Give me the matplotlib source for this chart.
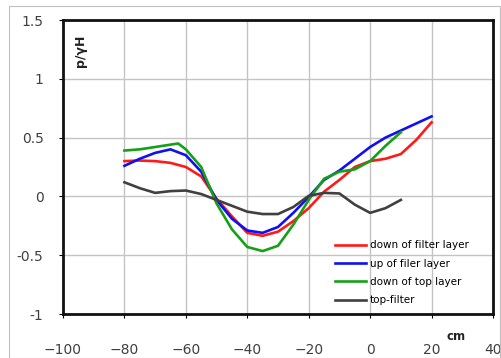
import matplotlib.pyplot as plt
from matplotlib.patches import Rectangle

# distance along the section (cm)
x_long = [-80, -75, -70, -65, -60, -55, -50, -45, -40, -35, -30,
          -25, -20, -15, -10, -5, 0, 5, 10, 15, 20]
x_green = [-80, -75, -70, -65, -62.5, -60, -55, -50, -45, -40, -35, -30,
           -25, -20, -15, -10, -5, 0, 5, 10]
x_black = x_long[:-2]

# p / gamma H readings
down_filter = [0.30, 0.305, 0.30, 0.285, 0.25, 0.17, -0.02, -0.17, -0.31, -0.335, -0.30,
               -0.21, -0.10, 0.04, 0.14, 0.25, 0.30, 0.32, 0.36, 0.48, 0.63]
up_filer = [0.26, 0.32, 0.37, 0.40, 0.35, 0.21, -0.03, -0.19, -0.29, -0.31, -0.26,
            -0.14, -0.005, 0.14, 0.22, 0.32, 0.42, 0.50, 0.56, 0.62, 0.68]
down_top = [0.39, 0.40, 0.42, 0.44, 0.45, 0.40, 0.25, -0.06, -0.28, -0.43, -0.465, -0.42,
            -0.24, -0.03, 0.15, 0.21, 0.23, 0.30, 0.43, 0.545]
top_filter = [0.12, 0.07, 0.03, 0.045, 0.05, 0.02, -0.03, -0.08, -0.13, -0.15, -0.15,
              -0.09, 0.005, 0.03, 0.025, -0.07, -0.14, -0.10, -0.03]

labels = ['down of filter layer', 'up of filer layer', 'down of top layer', 'top-filter']
colors = ['#ff1a1a', '#1010f0', '#16a016', '#404040']

xticks = [-100, -80, -60, -40, -20, 0, 20, 40]
yticks = [-1, -0.5, 0, 0.5, 1, 1.5]
ytick_labels = ['-1', '-0.5', '0', '0.5', '1', '1.5']

W, H = 502, 358
fig = plt.figure(figsize=(W / 100, H / 100), dpi=100)
ax = fig.add_axes([63 / W, 1 - 314 / H, (493 - 63) / W, (314 - 20) / H])

series = [(x_long, down_filter), (x_long, up_filer), (x_green, down_top), (x_black, top_filter)]
for (xs, ys), lab, c in zip(series, labels, colors):
    ax.plot(xs, ys, color=c, lw=1.9, label=lab, solid_joinstyle='round')

ax.set_xlim(-100, 40)
ax.set_ylim(-1, 1.5)
ax.set_xticks(xticks)
ax.set_xticklabels([str(t).replace('-', '\u2212') for t in xticks])
ax.set_yticks(yticks)
ax.set_yticklabels(ytick_labels)
ax.grid(True, color='#c4c4c4', lw=1.0)
ax.set_axisbelow(True)
for s in ax.spines.values():
    s.set_linewidth(2.0)
    s.set_color('#111111')
ax.tick_params(axis='y', length=3, pad=11, labelsize=10, labelcolor='#404040')
ax.tick_params(axis='x', length=3, pad=18, labelsize=10, labelcolor='#404040')

ax.text(81, H - 51, 'p/\u03b3H', transform=None, rotation=90, fontsize=9,
        fontweight='bold', ha='center', va='center', color='#222222')
ax.text(456, H - 337, 'cm', transform=None, fontsize=8.5, fontweight='bold',
        ha='center', va='center', color='#222222')

ax.legend(loc='upper left', bbox_to_anchor=(330 / W, 1 - 235 / H),
          bbox_transform=fig.transFigure, frameon=False, fontsize=7.5,
          borderpad=0, handlelength=3.0, handletextpad=0.3, labelspacing=0.8)

fig.add_artist(Rectangle((9 / W, 0.5 / H), (500 - 9) / W, (352 - 0.5) / H,
                         transform=fig.transFigure, fill=False, ec='#c0c0c0', lw=0.8))

fig.savefig('out.png', dpi=100)
